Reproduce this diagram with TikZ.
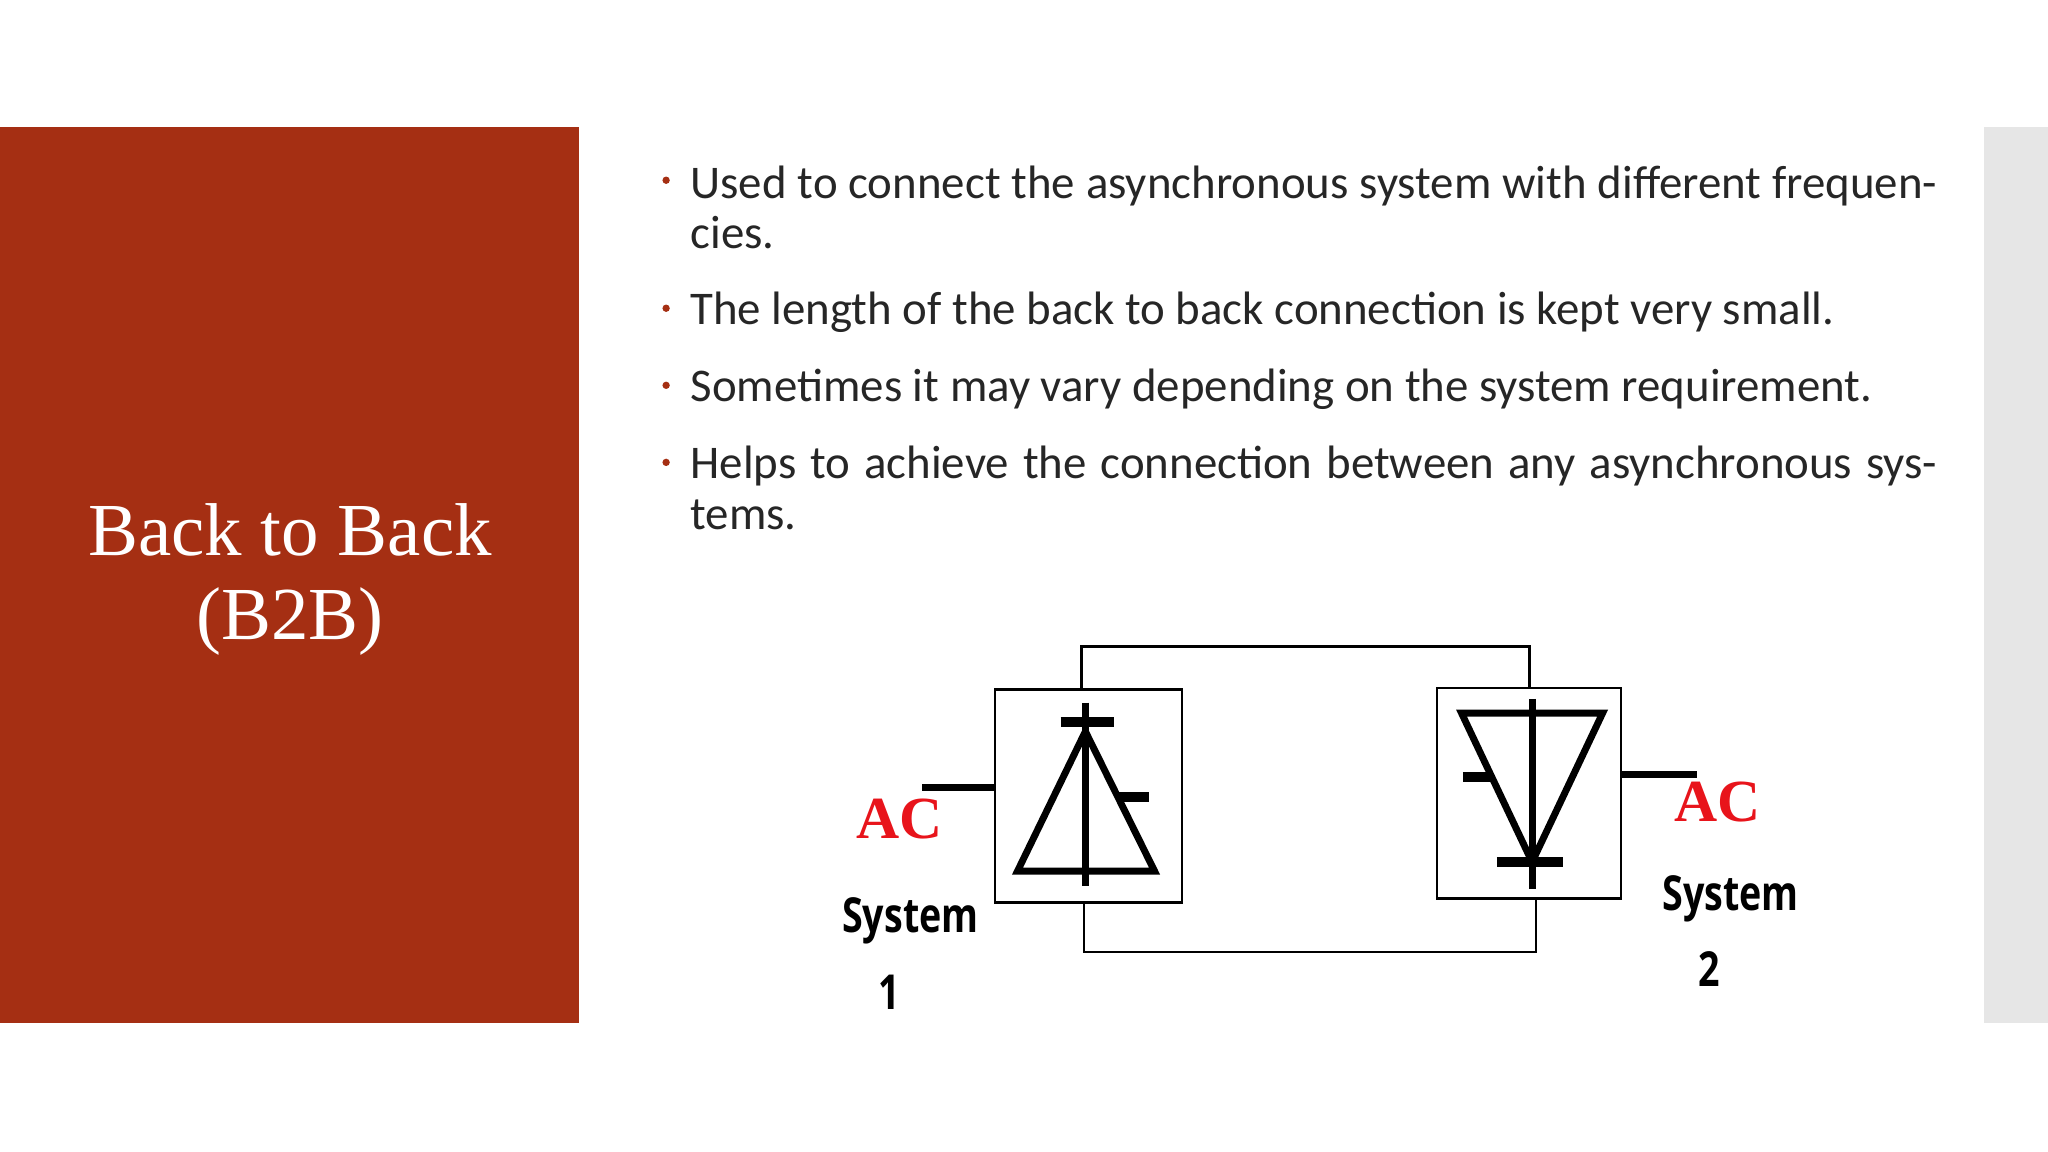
\documentclass[tikz,border=0pt]{standalone}
\usepackage{fontspec}
\setmainfont{Carlito}
\newfontfamily\titlefont{Liberation Serif}
\newfontfamily\sysfont{Open Sans}
\definecolor{panelred}{HTML}{A52F13}
\definecolor{stripgrey}{HTML}{E6E6E6}
\definecolor{acred}{HTML}{E8141B}
\begin{document}
\begin{tikzpicture}[x=0.01cm,y=-0.01cm,
  bul/.style={anchor=north west,inner sep=0pt,text width=9.54cm,align=justify,font=\fontsize{10.2}{11.1}\selectfont,text=black!85},
  dot/.style={circle,fill=panelred,inner sep=0pt,minimum size=1.6pt},
  wire/.style={line width=0.45pt},
  thick1/.style={line width=1.5pt},
  barw/.style={line width=2.1pt},
  acl/.style={text=acred,font=\titlefont\bfseries\fontsize{13}{13}\selectfont,inner sep=0pt},
  sysl/.style={font=\sysfont\bfseries\fontsize{10.5}{10.5}\selectfont,inner sep=0pt},
  conv/.style={draw,line width=0.5pt,fill=white}]
\useasboundingbox (0,0) rectangle (1568,882);
\fill[white] (0,0) rectangle (1568,882);
\fill[panelred] (0,97) rectangle (443,783);
\fill[stripgrey] (1519,97) rectangle (1568,783);
\node[text=white,align=center,font=\titlefont\fontsize{16.3}{18.3}\selectfont] (title) at (222,444) {Back to Back\\(B2B)};
% bullets
\node[bul] (b1) at (528,126) {Used to connect the asynchronous system with different frequencies.};
\node[bul] (b2) at (528,223) {The length of the back to back connection is kept very small.};
\node[bul] (b3) at (528,282) {Sometimes it may vary depending on the system requirement.};
\node[bul] (b4) at (528,341) {Helps to achieve the connection between any asynchronous systems.};
\foreach \y/\n in {138/d1,236/d2,295/d3,354/d4} \node[dot] (\n) at (510,\y) {};
% converters
\node[conv,minimum width=143*0.01cm,minimum height=163*0.01cm] (c1) at (833.5,609.5) {};
\node[conv,minimum width=141*0.01cm,minimum height=161*0.01cm] (c2) at (1170.5,607.5) {};
\coordinate (t1) at (828,495); \coordinate (t2) at (1171,495);
\coordinate (u1) at (830,729); \coordinate (u2) at (1176,729);
\draw[wire] (c1.north -| t1) -- (t1) -- (t2) -- (c2.north -| t2);
\draw[wire] (c1.south -| u1) -- (u1) -- (u2) -- (c2.south -| u2);
% left symbol
\draw[thick1,line join=miter] (831,560) -- (779,667) -- (884,667) -- cycle;
\draw[thick1] (831,538) -- (831,678);
\draw[barw] (812,553) -- (853,553);
\draw[barw] (855,610) -- (880,610);
% right symbol
\draw[thick1,line join=miter] (1173,660) -- (1119,546) -- (1227,546) -- cycle;
\draw[thick1] (1173,535) -- (1173,681);
\draw[barw] (1146,660) -- (1197,660);
\draw[barw] (1120,595) -- (1142,595);
% AC leads
\coordinate (a1) at (706,603); \coordinate (a2) at (1299,593);
\draw[thick1] (a1) -- (c1.west |- a1);
\draw[thick1] (c2.east |- a2) -- (a2);
\node[acl] (ac1) at (689,627) {AC};
\node[acl] (ac2) at (1315,614) {AC};
\node[sysl] (s1) at (697,705) {\scalebox{0.78}[1]{System}};
\node[sysl] (n1) at (681,760) {\scalebox{0.78}[1]{1}};
\node[sysl] (s2) at (1325,688) {\scalebox{0.78}[1]{System}};
\node[sysl] (n2) at (1309,742) {\scalebox{0.78}[1]{2}};
\end{tikzpicture}
\end{document}
